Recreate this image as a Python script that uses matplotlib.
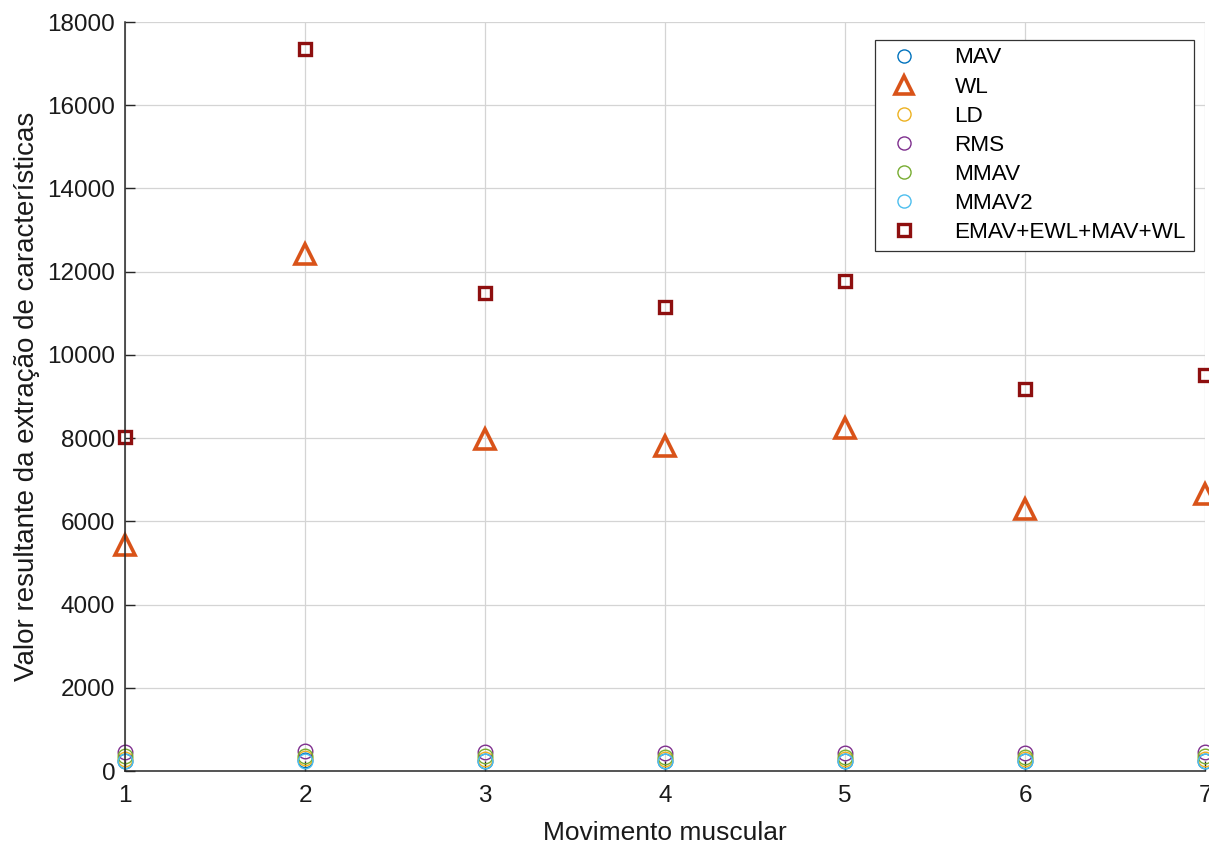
import matplotlib
matplotlib.use("Agg")
import matplotlib.pyplot as plt

plt.rcParams["font.family"] = ["Liberation Sans", "DejaVu Sans"]

# movement index and feature values
moves = [1, 2, 3, 4, 5, 6, 7]
mav = [250, 260, 250, 250, 250, 250, 250]
wl = [5430, 12430, 7980, 7810, 8240, 6300, 6660]
ld = [300, 310, 300, 300, 300, 300, 300]
rms = [450, 480, 450, 440, 440, 440, 450]
mmav = [350, 370, 350, 340, 340, 340, 350]
mmav2 = [230, 250, 230, 230, 230, 230, 230]
combo = [8030, 17360, 11490, 11150, 11780, 9180, 9520]

fig = plt.figure(figsize=(12.09, 8.47), dpi=100)
ax = fig.add_axes([0.1034, 0.0897, 0.8933, 0.8843])

circ = dict(marker="o", linestyle="none", markersize=10.5, markerfacecolor="none",
            markeredgewidth=1.0, clip_on=False)
ax.plot(moves, mav, color="#0072BD", label="MAV", **circ)
ax.plot(moves, wl, marker="^", linestyle="none", markersize=14, markerfacecolor="none",
        markeredgewidth=2.6, color="#D95319", label="WL", clip_on=False)
ax.plot(moves, ld, color="#EDB120", label="LD", **circ)
ax.plot(moves, rms, color="#7E2F8E", label="RMS", **circ)
ax.plot(moves, mmav, color="#77AC30", label="MMAV", **circ)
ax.plot(moves, mmav2, color="#4DBEEE", label="MMAV2", **circ)
ax.plot(moves, combo, marker="s", linestyle="none", markersize=9, markerfacecolor="none",
        markeredgewidth=2.4, color="#8E0F0F", label="EMAV+EWL+MAV+WL", clip_on=False)

ax.set_xlim(1, 7)
ax.set_ylim(0, 18000)
ax.set_yticks(range(0, 18001, 2000))
ax.set_xticks(moves)
ax.grid(True, color="#d4d4d4", linewidth=0.9)
ax.set_axisbelow(True)
ax.spines["top"].set_visible(False)
ax.spines["right"].set_visible(False)
for s in ("left", "bottom"):
    ax.spines[s].set_color("#262626")
    ax.spines[s].set_linewidth(1.1)
ax.tick_params(direction="in", labelsize=17.5, length=7, width=1.0, color="#262626",
               labelcolor="#1a1a1a")
ax.tick_params(axis="x", pad=10)
ax.tick_params(axis="y", pad=7)
ax.set_xlabel("Movimento muscular", fontsize=19, color="#1a1a1a", labelpad=10)
ax.set_ylabel("Valor resultante da extração de características", fontsize=20,
              color="#1a1a1a", labelpad=5)

leg = ax.legend(loc="upper right", bbox_to_anchor=(0.9895, 0.9765), fontsize=16.2,
                fancybox=False, framealpha=1, edgecolor="#333333", markerscale=0.9,
                handlelength=1.9, handletextpad=1.3, labelspacing=0.36, borderpad=0.35,
                borderaxespad=0)
leg.get_frame().set_linewidth(0.9)

fig.savefig("out.png", dpi=100)
